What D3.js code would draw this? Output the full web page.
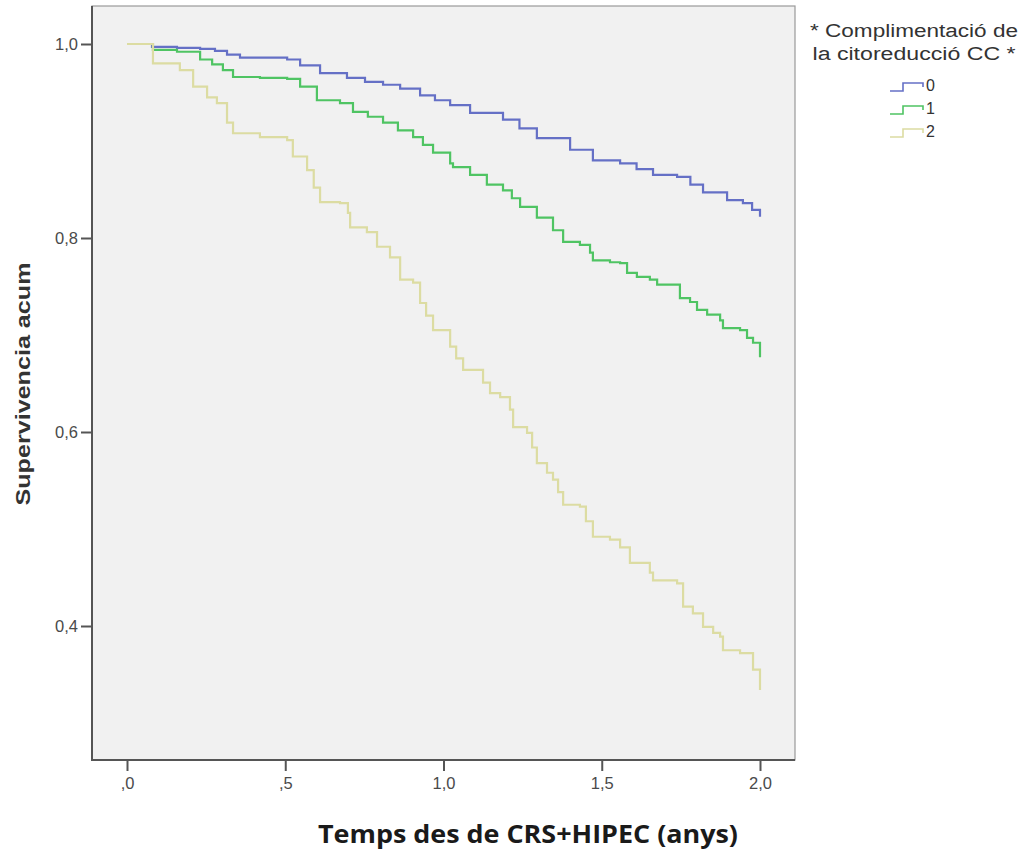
<!DOCTYPE html>
<html>
<head>
<meta charset="utf-8">
<script src="https://cdn.jsdelivr.net/npm/d3@7"></script>
<style>
  body { margin: 0; background: #fff; }
  text { font-family: "Liberation Sans", Arial, sans-serif; }
</style>
</head>
<body>
<svg id="chart" width="1022" height="853"></svg>
<script>
// Kaplan-Meier curves: [time (years), cumulative survival]
const cc0 = [
  [0, 1.0], [0.079, 0.997], [0.158, 0.996], [0.231, 0.995], [0.278, 0.993],
  [0.316, 0.989], [0.357, 0.986], [0.506, 0.984], [0.547, 0.978], [0.610, 0.970],
  [0.695, 0.965], [0.752, 0.961], [0.809, 0.958], [0.863, 0.954], [0.926, 0.947],
  [0.973, 0.942], [1.021, 0.937], [1.084, 0.929], [1.188, 0.922], [1.240, 0.913],
  [1.295, 0.903], [1.400, 0.891], [1.472, 0.880], [1.558, 0.877], [1.610, 0.871],
  [1.662, 0.865], [1.738, 0.863], [1.780, 0.855], [1.820, 0.847], [1.896, 0.839],
  [1.946, 0.836], [1.975, 0.829], [2.0, 0.822]
];
const cc1 = [
  [0, 1.0], [0.082, 0.994], [0.158, 0.992], [0.231, 0.984], [0.269, 0.979],
  [0.303, 0.973], [0.335, 0.966], [0.420, 0.965], [0.506, 0.964], [0.547, 0.956],
  [0.600, 0.942], [0.673, 0.939], [0.714, 0.930], [0.761, 0.925], [0.809, 0.919],
  [0.856, 0.911], [0.904, 0.904], [0.935, 0.896], [0.967, 0.888], [1.021, 0.877],
  [1.030, 0.873], [1.084, 0.865], [1.137, 0.855], [1.188, 0.849], [1.216, 0.841],
  [1.242, 0.832], [1.295, 0.821], [1.346, 0.808], [1.378, 0.796], [1.431, 0.793],
  [1.463, 0.785], [1.472, 0.777], [1.526, 0.775], [1.558, 0.774], [1.580, 0.764],
  [1.611, 0.760], [1.652, 0.757], [1.675, 0.752], [1.725, 0.752], [1.747, 0.738],
  [1.779, 0.734], [1.801, 0.726], [1.833, 0.721], [1.874, 0.715], [1.883, 0.707],
  [1.937, 0.705], [1.959, 0.697], [1.978, 0.692], [2.0, 0.677]
];
const cc2 = [
  [0, 1.0], [0.082, 0.980], [0.167, 0.973], [0.209, 0.956], [0.253, 0.945],
  [0.284, 0.939], [0.316, 0.919], [0.335, 0.908], [0.420, 0.904], [0.506, 0.901],
  [0.524, 0.884], [0.569, 0.870], [0.590, 0.852], [0.610, 0.837], [0.673, 0.836],
  [0.698, 0.826], [0.705, 0.811], [0.758, 0.806], [0.790, 0.791], [0.831, 0.780],
  [0.863, 0.757], [0.904, 0.754], [0.926, 0.733], [0.945, 0.720], [0.967, 0.705],
  [1.021, 0.688], [1.040, 0.676], [1.062, 0.664], [1.125, 0.651], [1.147, 0.640],
  [1.179, 0.636], [1.210, 0.623], [1.220, 0.605], [1.264, 0.599], [1.280, 0.584],
  [1.295, 0.568], [1.327, 0.558], [1.346, 0.551], [1.362, 0.538], [1.378, 0.525],
  [1.431, 0.523], [1.450, 0.508], [1.472, 0.492], [1.526, 0.489], [1.558, 0.481],
  [1.589, 0.465], [1.652, 0.455], [1.662, 0.447], [1.738, 0.444], [1.757, 0.420],
  [1.788, 0.413], [1.820, 0.399], [1.852, 0.393], [1.874, 0.389], [1.883, 0.375],
  [1.937, 0.372], [1.978, 0.355], [2.0, 0.334]
];

const groups = ["0", "1", "2"];
const colors = ["#6570c6", "#4fc463", "#dcdca2"];
const xTicks = [0, 0.5, 1.0, 1.5, 2.0];
const yTicks = [0.4, 0.6, 0.8, 1.0];

const svg = d3.select("#chart");

// plot frame in pixels
const frame = { left: 92, right: 795, top: 6, bottom: 760 };

const x = d3.scaleLinear().domain([0, 2]).range([127, 760]);
const y = d3.scaleLinear().domain([0, 1]).range([1014, 44]);

// Background
svg.append("rect")
    .attr("x", frame.left).attr("y", frame.top)
    .attr("width", frame.right - frame.left).attr("height", frame.bottom - frame.top)
    .attr("fill", "#f1f1f1")
    .attr("stroke", "#9a9a9a")
    .attr("stroke-width", 1.2);

// Axes
const fmt = (d, lead) => {
    let s = d.toFixed(1).replace(".", ",");
    if (!lead && s.startsWith("0,")) s = s.slice(1);
    return s;
};

const xAxis = svg.append("g")
    .attr("transform", `translate(0,${frame.bottom})`)
    .call(d3.axisBottom(x).tickValues(xTicks).tickSize(11).tickPadding(6)
        .tickFormat(d => fmt(d, false)));

const yAxis = svg.append("g")
    .attr("transform", `translate(${frame.left},0)`)
    .call(d3.axisLeft(y).tickValues(yTicks).tickSize(11).tickPadding(3)
        .tickFormat(d => fmt(d, true)));

[xAxis, yAxis].forEach(a => {
    a.select(".domain").remove();
    a.selectAll(".tick line").attr("stroke", "#555").attr("stroke-width", 2);
    a.selectAll(".tick text")
        .attr("fill", "#4a4a4a")
        .style("font-size", "16.5px")
        .style("font-family", "'Liberation Sans', Arial, sans-serif");
});

// dark left/bottom axis lines
svg.append("path")
    .attr("d", `M${frame.left},${frame.top}V${frame.bottom}H${frame.right}`)
    .attr("fill", "none")
    .attr("stroke", "#555")
    .attr("stroke-width", 2);

// Curves
const line = d3.line()
    .x(d => x(d[0]))
    .y(d => y(d[1]))
    .curve(d3.curveStepAfter);

[cc0, cc1, cc2].forEach((data, i) => {
    svg.append("path")
        .datum(data)
        .attr("fill", "none")
        .attr("stroke", colors[i])
        .attr("stroke-width", 2.2)
        .attr("d", line);
});

// Axis titles
svg.append("text")
    .attr("transform", `translate(30,384) rotate(-90)`)
    .attr("text-anchor", "middle")
    .attr("fill", "#333")
    .attr("textLength", 243)
    .attr("lengthAdjust", "spacingAndGlyphs")
    .style("font-size", "21px")
    .style("font-weight", "bold")
    .text("Supervivencia acum");

svg.append("text")
    .attr("x", 528)
    .attr("y", 843)
    .attr("text-anchor", "middle")
    .attr("fill", "#1a1a1a")
    .attr("textLength", 420)
    .attr("lengthAdjust", "spacingAndGlyphs")
    .style("font-family", "'Open Sans', sans-serif")
    .style("font-size", "25px")
    .style("font-weight", "bold")
    .text("Temps des de CRS+HIPEC (anys)");

// Legend
const legend = svg.append("g");
legend.append("text")
    .attr("x", 914).attr("y", 37)
    .attr("text-anchor", "middle")
    .attr("fill", "#333")
    .attr("textLength", 208)
    .attr("lengthAdjust", "spacingAndGlyphs")
    .style("font-size", "18px")
    .text("* Complimentació de");
legend.append("text")
    .attr("x", 914).attr("y", 60)
    .attr("text-anchor", "middle")
    .attr("fill", "#333")
    .attr("textLength", 203)
    .attr("lengthAdjust", "spacingAndGlyphs")
    .style("font-size", "18px")
    .text("la citoreducció CC *");

groups.forEach((g, i) => {
    const cy = 87 + i * 23;
    legend.append("path")
        .attr("d", `M890,${cy + 4}H903V${cy - 4}H923V${cy}`)
        .attr("fill", "none")
        .attr("stroke", colors[i])
        .attr("stroke-width", 1.6);
    legend.append("text")
        .attr("x", 926).attr("y", cy)
        .attr("dominant-baseline", "middle")
        .attr("fill", "#333")
        .style("font-size", "16px")
        .text(g);
});
</script>
</body>
</html>
